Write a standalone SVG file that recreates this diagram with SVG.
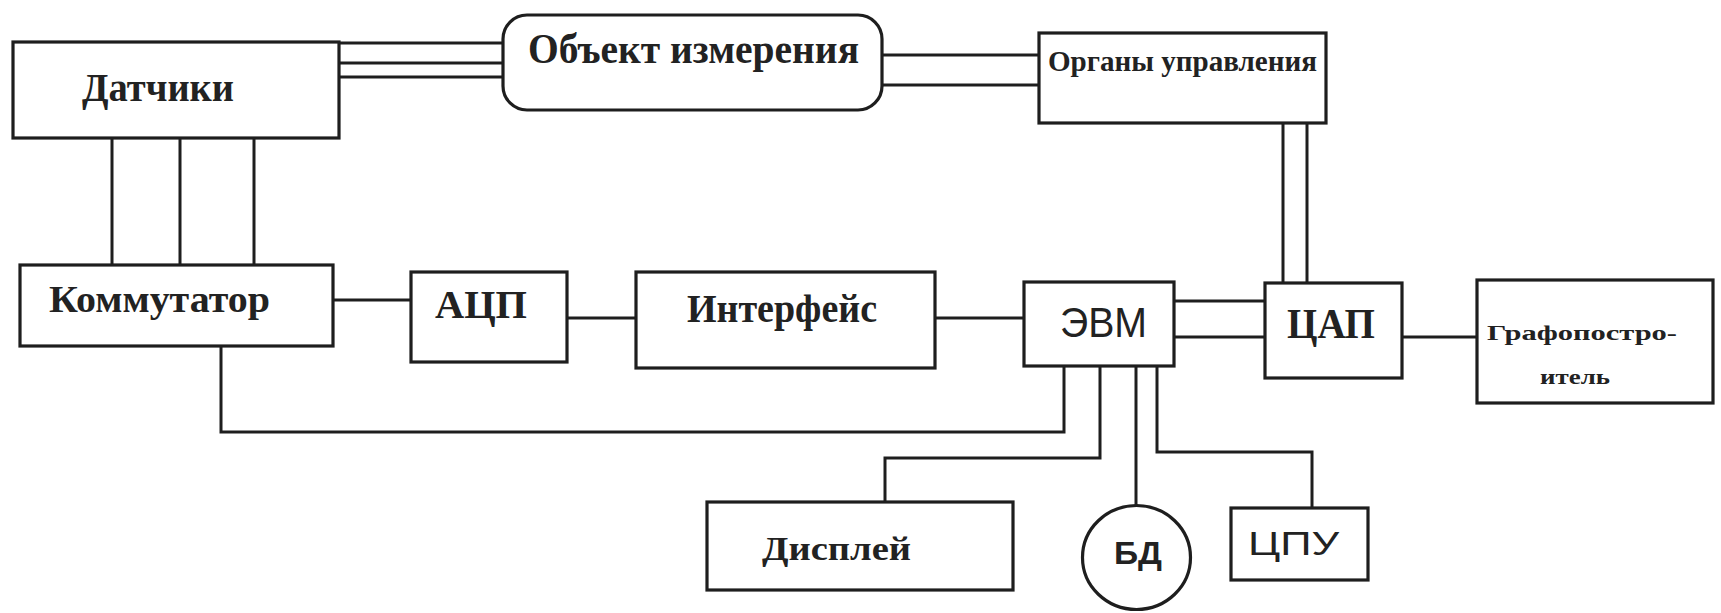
<svg xmlns="http://www.w3.org/2000/svg" width="1721" height="613" viewBox="0 0 1721 613">
<style>
.b{fill:none;stroke:#1e1e1e;stroke-width:3.2}
.c{fill:none;stroke:#1e1e1e;stroke-width:3}
.t{font-family:"Liberation Serif",serif;font-weight:bold;fill:#222;text-anchor:start}
.s{font-family:"Liberation Sans",sans-serif;fill:#222;text-anchor:start}
</style>
<rect width="1721" height="613" fill="#fff"/>
<g id="connectors">
<path class="c" d="M339,43H503M339,63H503M339,77H503"/>
<path class="c" d="M112,138V265M180,138V265M254,138V265"/>
<path class="c" d="M882,55H1039M882,85H1039"/>
<path class="c" d="M1283,123V283M1307,123V283"/>
<path class="c" d="M333,300H411"/>
<path class="c" d="M567,318H636"/>
<path class="c" d="M935,318H1024"/>
<path class="c" d="M1174,301H1265M1174,337H1265"/>
<path class="c" d="M1402,337H1477"/>
<path class="c" d="M221,346V432H1064V366"/>
<path class="c" d="M1100,366V458H885V502"/>
<path class="c" d="M1136,366V505"/>
<path class="c" d="M1157,366V452H1312V508"/>
</g>
<g id="datchiki"><rect class="b" x="13" y="42" width="326" height="96"/><text class="t" x="82" y="101" font-size="40" textLength="152" lengthAdjust="spacingAndGlyphs">Датчики</text></g>
<g id="obekt"><rect class="b" x="503" y="15" width="379" height="95" rx="24"/><text class="t" x="528" y="63" font-size="42" textLength="331" lengthAdjust="spacingAndGlyphs">Объект измерения</text></g>
<g id="organy"><rect class="b" x="1039" y="33" width="287" height="90"/><text class="t" x="1048" y="71" font-size="30" textLength="269" lengthAdjust="spacingAndGlyphs">Органы управления</text></g>
<g id="kommutator"><rect class="b" x="20" y="265" width="313" height="81"/><text class="t" x="49" y="312" font-size="38" textLength="221" lengthAdjust="spacingAndGlyphs">Коммутатор</text></g>
<g id="acp"><rect class="b" x="411" y="272" width="156" height="90"/><text class="t" x="435" y="318" font-size="40" textLength="92" lengthAdjust="spacingAndGlyphs">АЦП</text></g>
<g id="interfeis"><rect class="b" x="636" y="272" width="299" height="96"/><text class="t" x="687" y="322" font-size="40" textLength="190" lengthAdjust="spacingAndGlyphs">Интерфейс</text></g>
<g id="evm"><rect class="b" x="1024" y="282" width="150" height="84"/><text class="s" x="1060" y="337" font-size="42" textLength="87" lengthAdjust="spacingAndGlyphs">ЭВМ</text></g>
<g id="cap"><rect class="b" x="1265" y="283" width="137" height="95"/><text class="t" x="1287" y="338" font-size="42" textLength="88" lengthAdjust="spacingAndGlyphs">ЦАП</text></g>
<g id="grafopostroitel"><rect class="b" x="1477" y="280" width="236" height="123"/><text class="t" x="1487" y="340" font-size="22" textLength="190" lengthAdjust="spacingAndGlyphs">Графопостро-</text><text class="t" x="1540" y="384" font-size="22" textLength="70" lengthAdjust="spacingAndGlyphs">итель</text></g>
<g id="displei"><rect class="b" x="707" y="502" width="306" height="88"/><text class="t" x="762" y="560" font-size="34" textLength="149" lengthAdjust="spacingAndGlyphs">Дисплей</text></g>
<g id="bd"><ellipse class="b" cx="1136.5" cy="557.5" rx="54" ry="52"/><text class="s" x="1114" y="564" font-size="32" font-weight="bold" textLength="48" lengthAdjust="spacingAndGlyphs">БД</text></g>
<g id="cpu"><rect class="b" x="1231" y="508" width="137" height="72"/><text class="s" x="1248" y="555" font-size="34" textLength="91" lengthAdjust="spacingAndGlyphs">ЦПУ</text></g>
</svg>
